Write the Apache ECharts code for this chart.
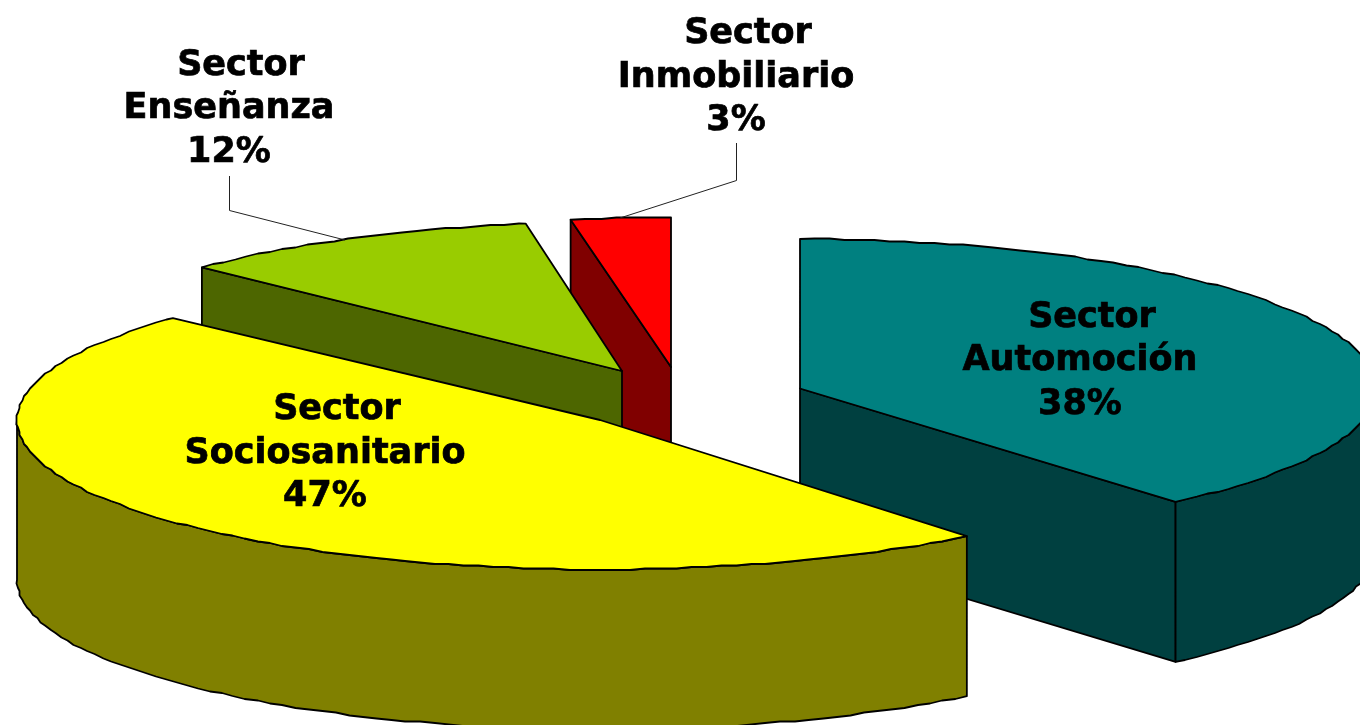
<!DOCTYPE html>
<html>
<head>
<meta charset="utf-8">
<title>Sectores</title>
<style>
  html, body { margin: 0; padding: 0; background: #fff; overflow: hidden; }
  #chart { width: 1360px; height: 725px; }
</style>
<script src="https://cdn.jsdelivr.net/npm/echarts@6/dist/echarts.min.js"></script>
</head>
<body>
<div id="chart"></div>
<script>
// data
const sectorNames = ['Automoción', 'Sociosanitario', 'Enseñanza', 'Inmobiliario'];
const sectorShares = [38, 47, 12, 3];

// colours
const topColors = ['#008080', '#ffff00', '#99cc00', '#ff0000'];
const sideColors = ['#004040', '#808000', '#4d6600', '#800000'];

// layout of the tilted, exploded pie (pixels)
const RY = 149.5;
const DEPTH = 160;
const STEP = 1.5;
const GRID = 1.5; // rim points snap to a small grid, the reference's rim is slightly bumpy too
const sliceRX = [576, 583, 583, 583];
const startTrim = [0, 1.7, 1, -0.4]; // degrees trimmed at each slice's start
const sliceCentres = [[800, 388.5], [600, 420], [622, 371], [671, 367]];
const drawRank = [2, 3, 1, 0]; // back to front
const labelCentres = [[1080, 361], [325, 453.5], [229, 109], [736, 77.5]];
const SECTOR_SHIFT = 12; // first line of each label sits right of the others
const LINE = 43.5;
const leaders = [null, null, [[229.5, 176], [229.5, 210.5], [345, 240]], [[736.5, 143], [736.5, 180.5], [620, 218]]];

// the 3D view squeezes the back of the pie, so angles shift a little on screen
function viewAngle(deg) {
  const r = deg * Math.PI / 180;
  return deg + 4.015 * (1 - Math.cos(r)) - 6.48 * Math.sin(r);
}

const total = sectorShares.reduce((a, b) => a + b, 0);

function pt(c, rx, deg, drop) {
  const r = deg * Math.PI / 180;
  return [c[0] + rx * Math.sin(r), c[1] - RY * Math.cos(r) + (drop || 0)];
}

function arc(c, rx, from, to, drop) {
  const pts = [pt(c, rx, from, drop)];
  for (let d = from + STEP; d < to; d += STEP) {
    const p = pt(c, rx, d, drop);
    pts.push([Math.round(p[0] / GRID) * GRID, Math.round(p[1] / GRID) * GRID]);
  }
  pts.push(pt(c, rx, to, drop));
  return pts;
}

function poly(points, fill, z2) {
  return {
    type: 'polygon',
    z2: z2,
    shape: { points: points },
    style: { fill: fill, stroke: '#000', lineWidth: 1.8, lineJoin: 'round' }
  };
}

function textLine(text, x, y) {
  return {
    type: 'text',
    z2: 110,
    x: x,
    y: y,
    style: {
      text: text,
      fill: '#000',
      stroke: '#000',
      lineWidth: 0.7,
      font: 'bold 35px "DejaVu Sans", Verdana, sans-serif',
      align: 'center',
      verticalAlign: 'middle'
    }
  };
}

function renderSlice(params, api) {
  const i = params.dataIndex;
  const before = sectorShares.slice(0, i).reduce((a, b) => a + b, 0);
  const start = viewAngle(before / total * 360) + startTrim[i];
  const end = viewAngle((before + api.value(1)) / total * 360);
  const c = sliceCentres[i];
  const rx = sliceRX[i];
  const z = drawRank[i] * 10;
  const below = [c[0], c[1] + DEPTH];
  const children = [];

  // cut faces that turn towards the viewer
  if (start > 180 && start < 360) {
    children.push(poly([c, pt(c, rx, start), pt(c, rx, start, DEPTH), below], sideColors[i], z));
  }
  if (end > 0 && end < 180) {
    children.push(poly([c, pt(c, rx, end), pt(c, rx, end, DEPTH), below], sideColors[i], z));
  }
  // outer rim, front half only
  const rimFrom = Math.max(start, 90);
  const rimTo = Math.min(end, 270);
  if (rimFrom < rimTo) {
    const rim = arc(c, rx, rimFrom, rimTo, 0).concat(arc(c, rx, rimFrom, rimTo, DEPTH).reverse());
    children.push(poly(rim, sideColors[i], z + 1));
  }
  // top face
  children.push(poly([c].concat(arc(c, rx, start, end, 0)), topColors[i], z + 2));

  if (leaders[i]) {
    children.push({
      type: 'polyline',
      z2: 100,
      shape: { points: leaders[i] },
      style: { fill: null, stroke: '#222', lineWidth: 1 }
    });
  }
  const lx = labelCentres[i][0];
  const ly = labelCentres[i][1];
  children.push(textLine('Sector', lx + SECTOR_SHIFT, ly - LINE));
  children.push(textLine(api.value(0), lx, ly));
  children.push(textLine(api.value(1) + '%', lx, ly + LINE));
  return { type: 'group', children: children };
}

const chart = echarts.init(document.getElementById('chart'));
chart.setOption({
  animation: false,
  backgroundColor: '#fff',
  series: [{
    type: 'custom',
    coordinateSystem: 'none',
    silent: true,
    encode: {},
    data: sectorNames.map((n, i) => [n, sectorShares[i]]),
    renderItem: renderSlice
  }]
});
window.onresize = chart.resize;
</script>
</body>
</html>
